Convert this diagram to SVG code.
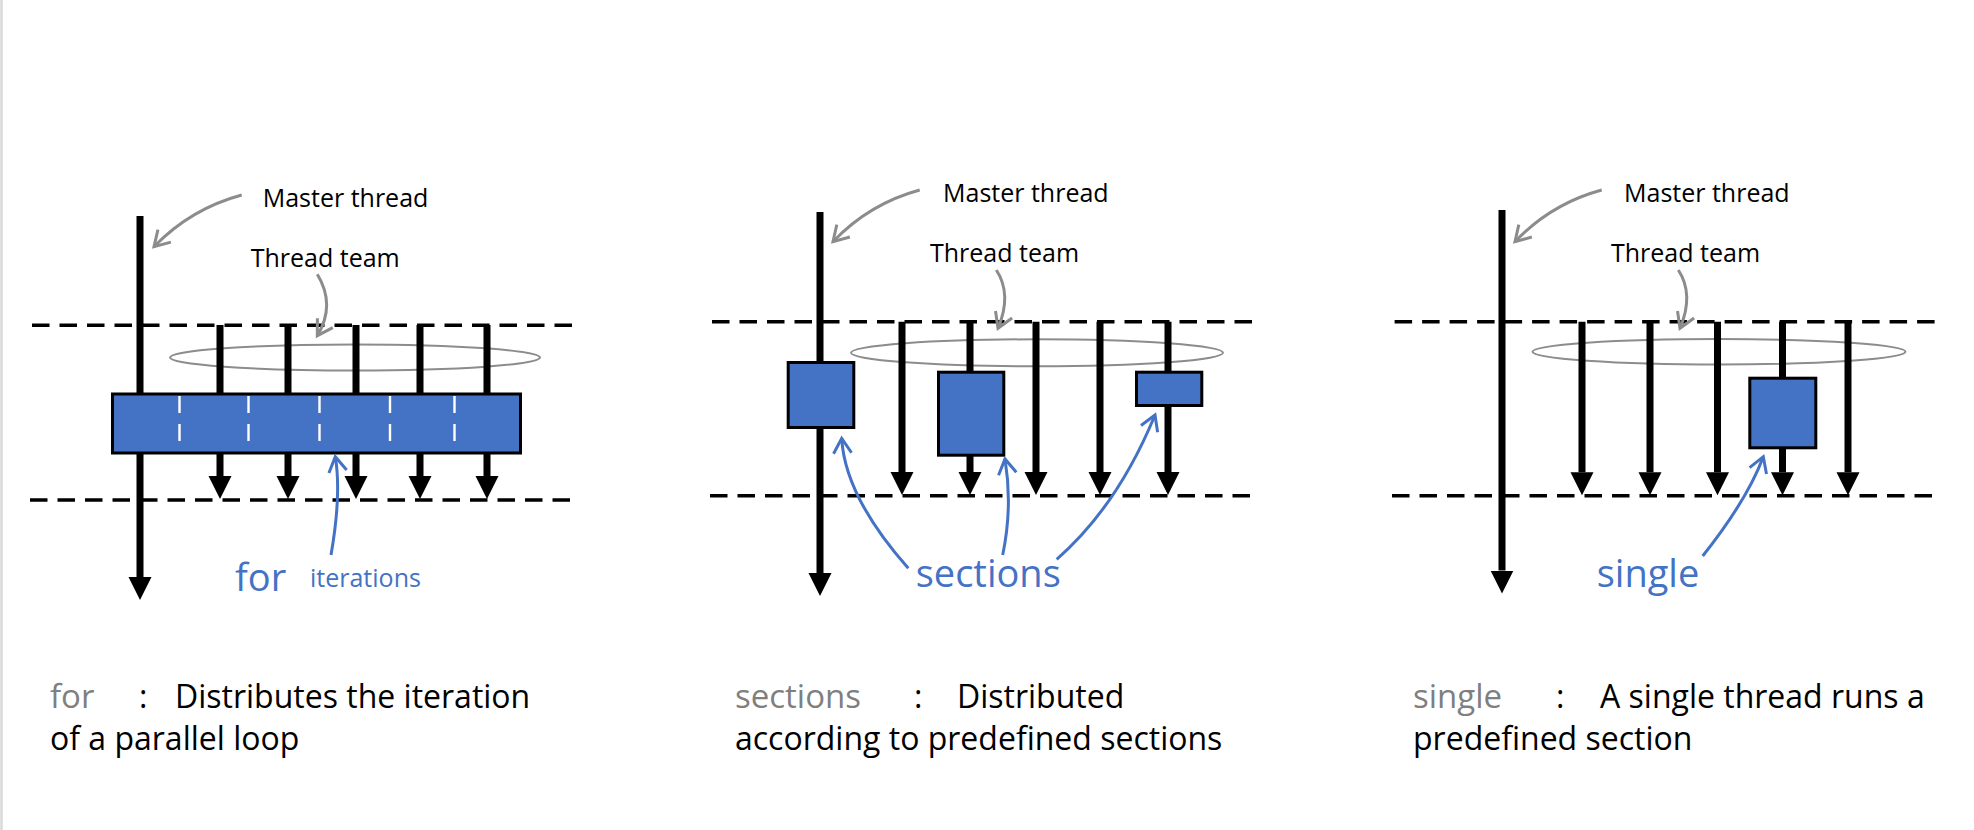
<svg xmlns="http://www.w3.org/2000/svg" width="1974" height="830" viewBox="0 0 1974 830">
<style>
.dash{fill:none;stroke:#000;stroke-width:3.5;stroke-dasharray:17.5 10}
.thr{fill:none;stroke:#000;stroke-width:7;marker-end:url(#ah)}
.team{fill:none;stroke:#8c8c8c;stroke-width:2}
.box{fill:#4472C4;stroke:#000;stroke-width:3}
.wd{stroke:#fff;stroke-width:2.4;stroke-dasharray:17 11}
.garr{fill:none;stroke:#8c8c8c;stroke-width:3;marker-end:url(#gv)}
.barr{fill:none;stroke:#4472C4;stroke-width:3;marker-end:url(#bv)}
text{font-family:'Open Sans','Noto Sans',sans-serif}
.lbl{font-size:25px;fill:#000}
.big{font-size:38px;fill:#4472C4}
.sm{font-size:25px;fill:#4472C4}
.cap{font-size:32px;fill:#000}
.kw{font-size:33px;fill:#7f7f7f}
</style>
<defs>
<marker id="ah" markerUnits="userSpaceOnUse" viewBox="0 -12 23 24" refX="0" refY="0" markerWidth="23" markerHeight="24" orient="auto">
<path d="M0,-11.5 L23,0 L0,11.5 Z" fill="#000"/>
</marker>
<marker id="gv" markerUnits="userSpaceOnUse" viewBox="-18 -11 20 22" refX="0" refY="0" markerWidth="20" markerHeight="22" orient="auto" style="overflow:visible">
<path d="M-15,-9 L0,0 L-15,9" fill="none" stroke="#8c8c8c" stroke-width="3"/>
</marker>
<marker id="bv" markerUnits="userSpaceOnUse" viewBox="-18 -11 20 22" refX="0" refY="0" markerWidth="20" markerHeight="22" orient="auto" style="overflow:visible">
<path d="M-15,-9 L0,0 L-15,9" fill="none" stroke="#4472C4" stroke-width="3"/>
</marker>
</defs>
<rect width="1974" height="830" fill="#fff"/>
<line x1="1.5" y1="0" x2="1.5" y2="830" stroke="#d9d9d9" stroke-width="2.5"/>

<!-- Panel 1: for -->
<g id="panel-for">
<g id="for-barriers">
<line class="dash" x1="32" y1="325.3" x2="581" y2="325.3"/>
<line class="dash" x1="30" y1="500" x2="579" y2="500"/>
</g>
<g id="for-team"><ellipse class="team" cx="355" cy="357.5" rx="185" ry="13"/></g>
<g id="for-master"><path class="thr" d="M140,216 V577"/></g>
<g id="for-threads">
<path class="thr" d="M220,325 V476"/>
<path class="thr" d="M288,325 V476"/>
<path class="thr" d="M356,325 V476"/>
<path class="thr" d="M420,325 V476"/>
<path class="thr" d="M487,325 V476"/>
</g>
<g id="for-block">
<rect class="box" x="112.5" y="394" width="408" height="59"/>
<line class="wd" x1="179.5" y1="396" x2="179.5" y2="452"/>
<line class="wd" x1="248.5" y1="396" x2="248.5" y2="452"/>
<line class="wd" x1="319.5" y1="396" x2="319.5" y2="452"/>
<line class="wd" x1="390" y1="396" x2="390" y2="452"/>
<line class="wd" x1="454.5" y1="396" x2="454.5" y2="452"/>
</g>
<g id="for-labels">
<text class="lbl" x="262.7" y="206.7">Master thread</text>
<text class="lbl" x="250.7" y="267.3">Thread team</text>
<text class="big" x="235" y="591">for</text>
<text class="sm" x="310" y="587">iterations</text>
</g>
<g id="for-caption">
<text class="kw" x="50" y="708">for</text>
<text class="cap" x="139" y="708">:</text>
<text class="cap" x="175" y="708">Distributes the iteration</text>
<text class="cap" x="50" y="750">of a parallel loop</text>
</g>
</g>

<!-- Panel 2: sections -->
<g id="panel-sections">
<g id="sec-barriers">
<line class="dash" x1="712" y1="321.7" x2="1261" y2="321.7"/>
<line class="dash" x1="710" y1="495.7" x2="1259" y2="495.7"/>
</g>
<g id="sec-team"><ellipse class="team" cx="1037" cy="352.8" rx="186" ry="13.5"/></g>
<g id="sec-master"><path class="thr" d="M820,212 V573"/></g>
<g id="sec-threads">
<path class="thr" d="M902,321.7 V472"/>
<path class="thr" d="M970,321.7 V472"/>
<path class="thr" d="M1036,321.7 V472"/>
<path class="thr" d="M1100,321.7 V472"/>
<path class="thr" d="M1168,321.7 V472"/>
</g>
<g id="sec-box1"><rect class="box" x="788.2" y="362.5" width="65.6" height="65"/></g>
<g id="sec-box2"><rect class="box" x="938.5" y="372.2" width="65.3" height="83"/></g>
<g id="sec-box3"><rect class="box" x="1136.5" y="372.2" width="65.3" height="33.3"/></g>
<g id="sec-labels">
<text class="lbl" x="943" y="201.7">Master thread</text>
<text class="lbl" x="930" y="261.7">Thread team</text>
<text class="big" x="915.7" y="587.3">sections</text>
</g>
<g id="sec-caption">
<text class="kw" x="735" y="708">sections</text>
<text class="cap" x="914" y="708">:</text>
<text class="cap" x="957" y="708">Distributed</text>
<text class="cap" x="735" y="750">according to predefined sections</text>
</g>
</g>

<!-- Panel 3: single -->
<g id="panel-single">
<g id="sgl-barriers">
<line class="dash" x1="1394.6" y1="321.7" x2="1943.7" y2="321.7"/>
<line class="dash" x1="1392" y1="495.7" x2="1941.8" y2="495.7"/>
</g>
<g id="sgl-team"><ellipse class="team" cx="1719" cy="351.8" rx="186.5" ry="12.7"/></g>
<g id="sgl-master"><path class="thr" d="M1502,210 V570.5"/></g>
<g id="sgl-threads">
<path class="thr" d="M1582,321.7 V472.3"/>
<path class="thr" d="M1650,321.7 V472.3"/>
<path class="thr" d="M1717.5,321.7 V472.3"/>
<path class="thr" d="M1782.5,321.7 V472.3"/>
<path class="thr" d="M1848,321.7 V472.3"/>
</g>
<g id="sgl-box"><rect class="box" x="1749.8" y="378.2" width="66" height="69.6"/></g>
<g id="sgl-labels">
<text class="lbl" x="1624" y="201.7">Master thread</text>
<text class="lbl" x="1611" y="261.7">Thread team</text>
<text class="big" x="1596.7" y="587.3">single</text>
</g>
<g id="sgl-caption">
<text class="kw" x="1413" y="708">single</text>
<text class="cap" x="1556" y="708">:</text>
<text class="cap" x="1600" y="708">A single thread runs a</text>
<text class="cap" x="1413" y="750">predefined section</text>
</g>
</g>

<!-- Connectors (annotation arrows) -->
<g id="connectors">
<path class="garr" d="M241.7,195 Q190.6,208.8 154,246.7"/>
<path class="garr" d="M317.3,274.3 Q336,305 317.3,335.7"/>
<path class="garr" d="M919.7,190 Q869,203.8 833,241.7"/>
<path class="garr" d="M996.3,270 Q1012.3,294.3 998,328.3"/>
<path class="garr" d="M1601.7,190 Q1551,203.8 1515,241.7"/>
<path class="garr" d="M1678.3,270 Q1694.3,294.3 1680,328.3"/>
<path class="barr" d="M331,555 Q341.6,494.2 335.3,456.7"/>
<path class="barr" d="M908.3,568.3 Q845,496.7 841.7,438.3"/>
<path class="barr" d="M1002.7,555 Q1012.8,506.4 1005,459"/>
<path class="barr" d="M1056.7,559.3 Q1117.5,506.2 1155,415"/>
<path class="barr" d="M1702.7,556 Q1747,500.3 1763.3,456.7"/>
</g>
</svg>
